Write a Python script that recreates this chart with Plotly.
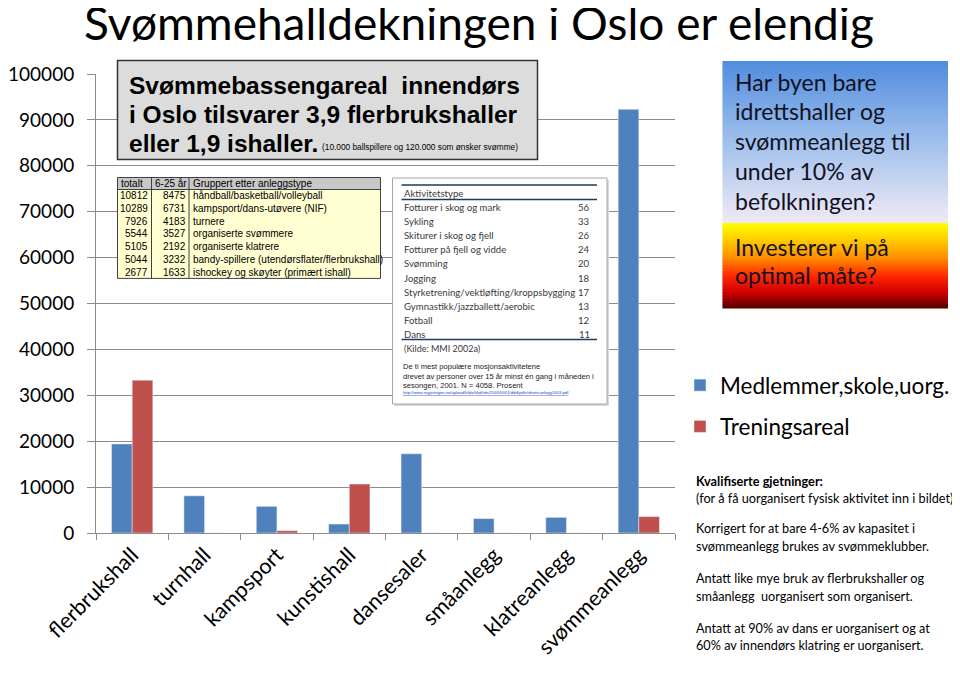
import plotly.graph_objects as go

# ---------------- data ----------------
categories = ["flerbrukshall", "turnhall", "kampsport", "kunstishall",
              "dansesaler", "småanlegg", "klatreanlegg", "svømmeanlegg"]
medlemmer = [19400, 8100, 5800, 1950, 17250, 3130, 3400, 92300]
treningsareal = [33300, 0, 500, 10650, 0, 0, 0, 3570]

y_ticks = [0, 10000, 20000, 30000, 40000, 50000, 60000, 70000, 80000, 90000, 100000]

tab_header = ["totalt", "6-25 år", "Gruppert etter anleggstype"]
tab_totalt = [10812, 10289, 7926, 5544, 5105, 5044, 2677]
tab_6_25 = [8475, 6731, 4183, 3527, 2192, 3232, 1633]
tab_gruppe = ["håndball/basketball/volleyball", "kampsport/dans-utøvere (NIF)",
              "turnere", "organiserte svømmere", "organiserte klatrere",
              "bandy-spillere (utendørsflater/flerbrukshall)",
              "ishockey og skøyter (primært ishall)"]

akt_navn = ["Fotturer i skog og mark", "Sykling", "Skiturer i skog og fjell",
            "Fotturer på fjell og vidde", "Svømming", "Jogging",
            "Styrketrening/vektløfting/kroppsbygging",
            "Gymnastikk/jazzballett/aerobic", "Fotball", "Dans"]
akt_prosent = [56, 33, 26, 24, 20, 18, 17, 13, 12, 11]

# ---------------- layout helpers (page pixel -> paper) ----------------
# the page body has an 8px margin, so the figure starts at (8, 8)
OX, OY = 8, 8
PAGE_W, PAGE_H = 960, 673
W, H = PAGE_W - OX, PAGE_H - OY
L, R, T, B = 96, 675, 74, 533   # plot area in page pixels


def fx(x):
    return (x - L) / (R - L)


def fy(y):
    return (B - y) / (B - T)


CAL = "Lato, Open Sans, sans-serif"
ARI = "Liberation Sans, Arial, sans-serif"
BLUE = "#4f81bd"
RED = "#c0504d"
GRID = "#8c8c8c"

fig = go.Figure()
fig.add_trace(go.Bar(x=categories, y=medlemmer, name="Medlemmer,skole,uorg.",
                     marker_color=BLUE, legendgroup="a"))
fig.add_trace(go.Bar(x=categories, y=treningsareal, name="Treningsareal",
                     marker_color=RED, legendgroup="b"))

shapes = []
ann = []


def rect(x0, y0, x1, y1, fill=None, line=None, lw=1):
    shapes.append(dict(type="rect", xref="paper", yref="paper",
                       x0=fx(x0), x1=fx(x1), y0=fy(y1), y1=fy(y0),
                       fillcolor=fill if fill else "rgba(0,0,0,0)",
                       line=dict(color=line if line else "rgba(0,0,0,0)",
                                 width=lw if line else 0),
                       layer="above"))


def hline(x0, x1, y, color, lw=1):
    shapes.append(dict(type="line", xref="paper", yref="paper",
                       x0=fx(x0), x1=fx(x1), y0=fy(y), y1=fy(y),
                       line=dict(color=color, width=lw), layer="above"))


def vline(x, y0, y1, color, lw=1):
    shapes.append(dict(type="line", xref="paper", yref="paper",
                       x0=fx(x), x1=fx(x), y0=fy(y0), y1=fy(y1),
                       line=dict(color=color, width=lw), layer="above"))


def text(x, y, s, size, family=CAL, color="black", xanchor="left", yanchor="middle"):
    ann.append(dict(x=fx(x), y=fy(y), xref="paper", yref="paper", text=s,
                    showarrow=False, xanchor=xanchor, yanchor=yanchor,
                    font=dict(family=family, size=size, color=color)))


# title
text(479, 23, "Svømmehalldekningen i Oslo er elendig", 46, xanchor="center")

# top-left grey box
rect(117.5, 60.5, 537.5, 159.5, fill="#dcdcdc", line="#333333", lw=1.5)
text(127, 85, "<b>Svømmebassengareal\u00a0\u00a0innendørs</b>", 24.5, family=ARI)
text(127, 114.5, "<b>i Oslo tilsvarer 3,9 flerbrukshaller</b>", 24.5, family=ARI)
text(127, 143, "<b>eller 1,9 ishaller.</b>", 24.5, family=ARI)
text(320, 147, "(10.000 ballspillere og 120.000 som ønsker svømme)", 8.3, family=ARI)

# small table
tx0, tx1, tx2, tx3 = 117.5, 151.5, 189, 380.5
ty0, ty1, rh = 177.5, 189.5, 12.7
rect(tx0, ty0, tx3, ty1, fill="#c8c8c8")
rect(tx0, ty1, tx3, ty1 + rh * len(tab_totalt), fill="#ffffd2")
rect(tx0, ty0, tx3, ty1 + rh * len(tab_totalt), line="#404040", lw=1)
hline(tx0, tx3, ty1, "#404040", 1)
vline(tx1, ty0, ty1 + rh * len(tab_totalt), "#404040", 1)
vline(tx2, ty0, ty1 + rh * len(tab_totalt), "#404040", 1)
text(tx0 + 1, (ty0 + ty1) / 2, tab_header[0], 10, family=ARI)
text(tx1 + 1, (ty0 + ty1) / 2, tab_header[1], 10, family=ARI)
text(tx2 + 1.5, (ty0 + ty1) / 2, tab_header[2], 10, family=ARI)
for i in range(len(tab_totalt)):
    yc = ty1 + rh * (i + 0.5)
    text(tx1 - 1.5, yc, str(tab_totalt[i]), 10, family=ARI, xanchor="right")
    text(tx2 - 1.5, yc, str(tab_6_25[i]), 10, family=ARI, xanchor="right")
    text(tx2 + 1.5, yc, tab_gruppe[i], 10, family=ARI)

# activity inset
rect(394, 180, 609, 406, fill="#d8d8d8")  # shadow
rect(392.5, 178, 607, 404, fill="white", line="#a6a6a6", lw=1)
NAVY = "#1f3864"
hline(401.5, 597, 185, NAVY, 1.5)
hline(401.5, 597, 199.5, NAVY, 1.5)
hline(401.5, 597, 339.5, NAVY, 1.5)
TXT = "#3a3a3a"
text(402, 193, "Aktivitetstype", 9.6, color=TXT)
for i in range(len(akt_navn)):
    yc = 207.7 + i * 14.07
    text(402, yc, akt_navn[i], 9.6, color=TXT)
    text(592, yc, str(akt_prosent[i]), 9.6, color=TXT, xanchor="right")
text(402, 348.5, "(Kilde: MMI 2002a)", 9, color=TXT)
text(401, 366.5, "De ti mest populære mosjonsaktivitetene", 7.6, family=ARI, color="#222222")
text(401, 376, "drevet av personer over 15 år minst én gang i måneden i", 7.6, family=ARI, color="#222222")
text(401, 385, "sesongen, 2001. N = 4058. Prosent", 7.6, family=ARI, color="#222222")
text(401, 392.5, "<u>http://www.regjeringen.no/upload/kilde/kkd/rdn/2003/0001/ddd/pdfv/idrettsanlegg2003.pdf</u>",
     4.2, family=ARI, color="#1f3fbf")

# gradient box (thin bands)
def lerp_stops(stops, y):
    for (ya, ca), (yb, cb) in zip(stops[:-1], stops[1:]):
        if ya <= y <= yb:
            t = (y - ya) / (yb - ya)
            return tuple(int(round(a + (b - a) * t)) for a, b in zip(ca, cb))
    return stops[-1][1]


top_stops = [(61, (80, 140, 222)), (140, (158, 191, 236)), (223, (240, 234, 244))]
bot_stops = [(223, (255, 255, 0)), (240, (255, 204, 0)), (258, (255, 140, 0)),
             (276, (255, 40, 0)), (292, (210, 0, 0)), (308, (88, 0, 0))]
GX0, GX1 = 722.5, 948
y = 61.0
while y < 223:
    c = lerp_stops(top_stops, y + 1)
    rect(GX0, y, GX1, min(y + 2.6, 223), fill="rgb(%d,%d,%d)" % c)
    y += 2
y = 223.0
while y < 308:
    c = lerp_stops(bot_stops, y + 0.75)
    rect(GX0, y, GX1, min(y + 2.0, 308.5), fill="rgb(%d,%d,%d)" % c)
    y += 1.5

q1 = ["Har byen bare", "idrettshaller og", "svømmeanlegg til", "under 10% av", "befolkningen?"]
for i, s in enumerate(q1):
    text(733, 81.5 + i * 29.8, s, 23, color="#111122")
q2 = ["Investerer vi på", "optimal måte?"]
for i, s in enumerate(q2):
    text(733, 246.5 + i * 28, s, 23, color="#111122")

# right-hand notes
notes = [
    (481, "<b>Kvalifiserte gjetninger:</b>"),
    (498, "(for å få uorganisert fysisk aktivitet inn i bildet)"),
    (528, "Korrigert for at bare 4-6% av kapasitet i"),
    (546, "svømmeanlegg brukes av svømmeklubber."),
    (578, "Antatt like mye bruk av flerbrukshaller og"),
    (596, "småanlegg\u00a0\u00a0uorganisert som organisert."),
    (628, "Antatt at 90% av dans er uorganisert og at"),
    (645, "60% av innendørs klatring er uorganisert."),
]
for yy, s in notes:
    text(694, yy, s, 12.7)

fig.update_layout(
    width=W, height=H,
    margin=dict(l=L - OX, r=PAGE_W - R, t=T - OY, b=PAGE_H - B, pad=0,
                autoexpand=False),
    paper_bgcolor="white", plot_bgcolor="white",
    barmode="group", bargap=0.43, bargroupgap=0,
    showlegend=True,
    legend=dict(xref="container", yref="container",
                x=(680 - OX) / W, y=1 - (364 - OY) / H,
                xanchor="left", yanchor="top",
                font=dict(family=CAL, size=22.5, color="black"),
                traceorder="grouped", tracegroupgap=9,
                bgcolor="rgba(0,0,0,0)", itemwidth=30),
    shapes=shapes,
    annotations=ann,
    font=dict(family=CAL, color="black"),
)
fig.update_yaxes(range=[0, 100000], tickvals=y_ticks, tickformat="d",
                 showgrid=True, gridcolor=GRID, gridwidth=1,
                 showline=True, linecolor=GRID, linewidth=1,
                 ticks="outside", ticklen=8, tickcolor=GRID,
                 tickfont=dict(family=CAL, size=19, color="black"),
                 ticklabelstandoff=9, zeroline=False, fixedrange=True,
                 automargin=False)
fig.update_xaxes(tickangle=-45, tickson="boundaries", ticks="outside",
                 ticklen=6, tickcolor=GRID, showline=True, linecolor=GRID,
                 linewidth=1, showgrid=False,
                 tickfont=dict(family=CAL, size=21.5, color="black"),
                 fixedrange=True, automargin=False)

fig.write_html("out.html")
